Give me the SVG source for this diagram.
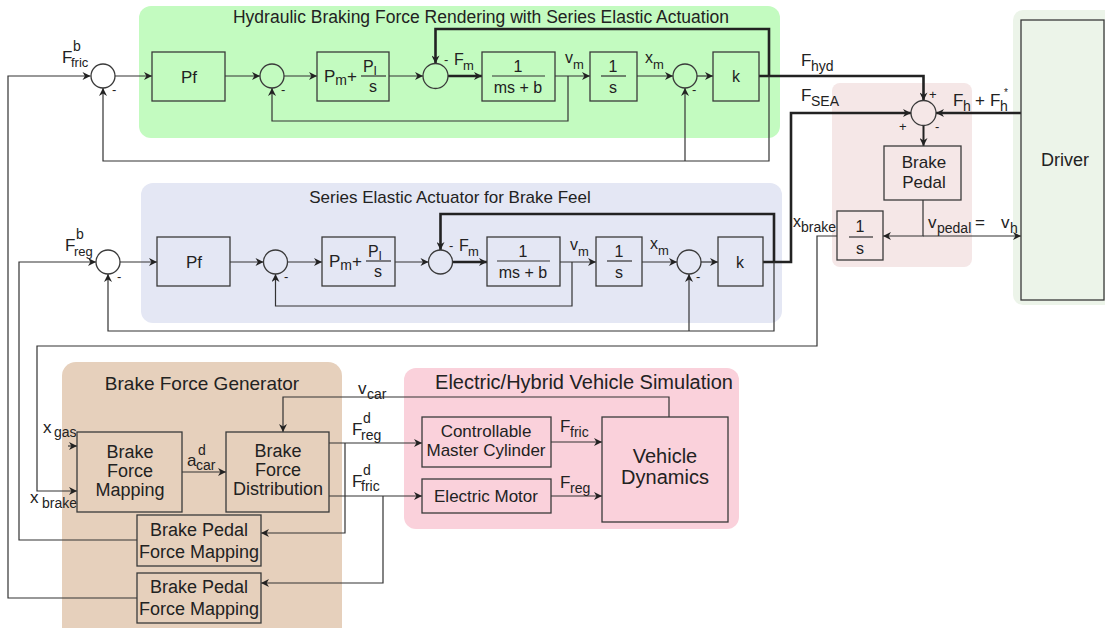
<svg xmlns="http://www.w3.org/2000/svg" width="1105" height="628" viewBox="0 0 1105 628">
<style>
.t{font-family:"Liberation Sans",Arial,sans-serif;fill:#222}
.c{text-anchor:middle}
.b{fill:none;stroke:#3a3a3a;stroke-width:1.3}
.ln{fill:none;stroke:#333;stroke-width:1.2}
.tk{fill:none;stroke:#222;stroke-width:2.6}
.f17{font-size:17px}.f16{font-size:16px}.f18{font-size:18px}.f14{font-size:14px}.f13{font-size:13px}
</style>
<defs>
<marker id="a" viewBox="0 0 10 10" refX="10" refY="5" markerWidth="10" markerHeight="8" markerUnits="userSpaceOnUse" orient="auto"><path d="M0,0 L10,5 L0,10 L3,5 z" fill="#222"/></marker>
</defs>
<rect width="1105" height="628" fill="#fff"/>
<g id="panels">
<rect x="139" y="6" width="641" height="132" rx="12" fill="#c3fbc0"/>
<rect x="141" y="183" width="641" height="140" rx="12" fill="#e4e7f4"/>
<rect x="832" y="83" width="140" height="184" rx="8" fill="#f5e7e7"/>
<rect x="1013" y="10" width="110" height="295" rx="10" fill="#ecf4e9"/>
<rect x="62" y="362" width="280" height="280" rx="14" fill="#e6d0bc"/>
<rect x="404" y="368" width="335" height="161" rx="12" fill="#fad1db"/>
<text class="t c" style="font-size:17.5px" x="481" y="23">Hydraulic Braking Force Rendering with Series Elastic Actuation</text>
<text class="t c" style="font-size:17px" x="450" y="203">Series Elastic Actuator for Brake Feel</text>
<text class="t c" style="font-size:19px" x="202" y="390">Brake Force Generator</text>
<text class="t c" style="font-size:20px" x="584" y="389">Electric/Hybrid Vehicle Simulation</text>
</g>
<g id="connectors">
<path class="ln" d="M137,598 H8 V76 H90.5" marker-end="url(#a)"/>
<path class="ln" d="M115,76 H152" marker-end="url(#a)"/>
<path class="ln" d="M225,76 H260" marker-end="url(#a)"/>
<path class="ln" d="M284,76 H317" marker-end="url(#a)"/>
<path class="ln" d="M389,76 H423" marker-end="url(#a)"/>
<path class="tk" d="M448,76 H482" marker-end="url(#a)"/>
<path class="ln" d="M555,76 H590" marker-end="url(#a)"/>
<path class="ln" d="M568,76 V121 H272 V88" marker-end="url(#a)"/>
<path class="ln" d="M637,76 H673" marker-end="url(#a)"/>
<path class="ln" d="M697,76 H713" marker-end="url(#a)"/>
<path class="tk" d="M759,76 H923.5 V100.5" marker-end="url(#a)"/>
<path class="tk" d="M769,76 V29 H435.5 V63.5" marker-end="url(#a)"/>
<path class="ln" d="M769,76 V161 H103 V88" marker-end="url(#a)"/>
<path class="ln" d="M685,161 V88" marker-end="url(#a)"/>
<path class="ln" d="M137,540 H19 V262 H96" marker-end="url(#a)"/>
<path class="ln" d="M120,262 H157" marker-end="url(#a)"/>
<path class="ln" d="M230,262 H263.5" marker-end="url(#a)"/>
<path class="ln" d="M287.5,262 H322" marker-end="url(#a)"/>
<path class="ln" d="M395,262 H428.5" marker-end="url(#a)"/>
<path class="tk" d="M452.5,262 H487" marker-end="url(#a)"/>
<path class="ln" d="M560,262 H596" marker-end="url(#a)"/>
<path class="ln" d="M572,262 V306 H275.5 V274" marker-end="url(#a)"/>
<path class="ln" d="M642,262 H677" marker-end="url(#a)"/>
<path class="ln" d="M701,262 H718" marker-end="url(#a)"/>
<path class="tk" d="M763,262 H791 V113 H911" marker-end="url(#a)"/>
<path class="tk" d="M774,262 V214 H440.5 V250" marker-end="url(#a)"/>
<path class="ln" d="M774,262 V331 H108 V274" marker-end="url(#a)"/>
<path class="ln" d="M689,331 V274" marker-end="url(#a)"/>
<path class="tk" d="M1021,113 H936" marker-end="url(#a)"/>
<path class="tk" style="stroke-width:2" d="M923.5,125.5 V146" marker-end="url(#a)"/>
<path class="ln" d="M923,200 V236 H883" marker-end="url(#a)"/>
<path class="ln" d="M923,236 H1021" marker-end="url(#a)"/>
<path class="ln" d="M837,236 H817 V346 H37 V491 H77" marker-end="url(#a)"/>
<path class="ln" d="M68,446 H77" marker-end="url(#a)"/>
<path class="ln" d="M182,472 H226" marker-end="url(#a)"/>
<path class="ln" d="M669,417 V397 H283 V432" marker-end="url(#a)"/>
<path class="ln" d="M329,443 H422" marker-end="url(#a)"/>
<path class="ln" d="M345,443 V533 H261" marker-end="url(#a)"/>
<path class="ln" d="M329,496 H422" marker-end="url(#a)"/>
<path class="ln" d="M383,496 V583 H261" marker-end="url(#a)"/>
<path class="ln" d="M551,442 H602" marker-end="url(#a)"/>
<path class="ln" d="M551,496 H602" marker-end="url(#a)"/>
</g>
<g id="labels">
<text class="t f17" x="62" y="63">F</text><text class="t f14" x="73" y="51">b</text><text class="t f13" x="71" y="67">fric</text>
<text class="t f17" x="65" y="251">F</text><text class="t f14" x="76" y="239">b</text><text class="t f13" x="74" y="256">reg</text>
<text class="t f16" x="454" y="65">F</text><text class="t f13" x="463" y="70">m</text>
<text class="t f16" x="565" y="63">v</text><text class="t f13" x="573" y="69">m</text>
<text class="t f16" x="645" y="63">x</text><text class="t f13" x="653" y="69">m</text>
<text class="t f16" x="459" y="251">F</text><text class="t f13" x="468" y="256">m</text>
<text class="t f16" x="570" y="250">v</text><text class="t f13" x="578" y="256">m</text>
<text class="t f16" x="650" y="249">x</text><text class="t f13" x="658" y="255">m</text>
<text class="t f17" x="801" y="66">F</text><text class="t f14" x="811" y="71">hyd</text>
<text class="t f17" x="801" y="101">F</text><text class="t f14" x="811" y="106">SEA</text>
<text class="t f17" x="953" y="106">F</text><text class="t f14" x="963" y="111">h</text>
<text class="t f17" x="975" y="106">+</text><text class="t f17" x="990" y="106">F</text><text class="t f14" x="1000" y="111">h</text><text class="t" style="font-size:10px" x="1004" y="96">*</text>
<text class="t f17" x="928" y="228">v</text><text class="t f14" x="937" y="233">pedal</text>
<text class="t f17" x="975" y="228">=</text>
<text class="t f17" x="1001" y="228">v</text><text class="t f14" x="1010" y="233">h</text>
<text class="t f16" x="793" y="227">x</text><text class="t f14" x="801" y="232">brake</text>
<text class="t f17" x="352" y="435">F</text><text class="t f14" x="363" y="423">d</text><text class="t f14" x="361" y="440">reg</text>
<text class="t f17" x="352" y="487">F</text><text class="t f14" x="363" y="475">d</text><text class="t f14" x="361" y="491">fric</text>
<text class="t f17" x="358" y="394">v</text><text class="t f14" x="367" y="399">car</text>
<text class="t f17" x="187" y="466">a</text><text class="t f14" x="198" y="455">d</text><text class="t f14" x="196" y="470">car</text>
<text class="t f17" x="43" y="433">x</text><text class="t f14" x="54" y="437">gas</text>
<text class="t f17" x="30" y="503">x</text><text class="t f14" x="42" y="508">brake</text>
<text class="t f17" x="560" y="432">F</text><text class="t f14" x="570" y="437">fric</text>
<text class="t f17" x="560" y="488">F</text><text class="t f14" x="570" y="493">reg</text>
<text class="t f13" x="112" y="94">-</text><text class="t f13" x="281" y="94">-</text><text class="t f13" x="444" y="64">-</text><text class="t f13" x="692" y="94">-</text>
<text class="t f13" x="117" y="281">-</text><text class="t f13" x="284" y="281">-</text><text class="t f13" x="449" y="250">-</text><text class="t f13" x="696" y="281">-</text>
<text class="t f13" x="929" y="99">+</text><text class="t f13" x="899" y="131">+</text><text class="t f13" x="935" y="131">-</text>
</g>
<g id="S1"><circle class="b" cx="103" cy="76" r="12"/></g>
<g id="Pf1"><rect class="b" x="152" y="52" width="73" height="49"/><text class="t f17 c" x="189" y="83">Pf</text></g>
<g id="S2"><circle class="b" cx="272" cy="76" r="12"/></g>
<g id="PI1"><rect class="b" x="317" y="52" width="72" height="49"/><text class="t f17" x="324" y="82">P<tspan class="f14" dy="3">m</tspan><tspan dy="-3">+</tspan></text><text class="t f16" x="363" y="72">P<tspan class="f13" dy="3">l</tspan></text><line class="ln" x1="361" y1="76" x2="386" y2="76"/><text class="t f16 c" x="373" y="92">s</text></g>
<g id="S3"><circle class="b" cx="435.5" cy="76" r="12.5"/></g>
<g id="M1"><rect class="b" x="482" y="52" width="73" height="49"/><text class="t f16 c" x="518" y="72">1</text><line class="ln" x1="492" y1="76" x2="545" y2="76"/><text class="t f16 c" x="518" y="93">ms + b</text></g>
<g id="I1"><rect class="b" x="590" y="52" width="47" height="49"/><text class="t f16 c" x="613" y="72">1</text><line class="ln" x1="601" y1="76" x2="626" y2="76"/><text class="t f16 c" x="613" y="93">s</text></g>
<g id="S4"><circle class="b" cx="685" cy="76" r="12"/></g>
<g id="K1"><rect class="b" x="713" y="52" width="46" height="49"/><text class="t f16 c" x="736" y="82">k</text></g>
<g id="S1b"><circle class="b" cx="108" cy="262" r="12"/></g>
<g id="Pf2"><rect class="b" x="157" y="237" width="73" height="49"/><text class="t f17 c" x="194" y="268">Pf</text></g>
<g id="S2b"><circle class="b" cx="275.5" cy="262" r="12"/></g>
<g id="PI2"><rect class="b" x="322" y="237" width="73" height="49"/><text class="t f17" x="329" y="267">P<tspan class="f14" dy="3">m</tspan><tspan dy="-3">+</tspan></text><text class="t f16" x="368" y="257">P<tspan class="f13" dy="3">l</tspan></text><line class="ln" x1="366" y1="261" x2="391" y2="261"/><text class="t f16 c" x="378" y="277">s</text></g>
<g id="S3b"><circle class="b" cx="440.5" cy="262" r="12"/></g>
<g id="M2"><rect class="b" x="487" y="237" width="73" height="49"/><text class="t f16 c" x="523" y="257">1</text><line class="ln" x1="497" y1="261" x2="550" y2="261"/><text class="t f16 c" x="523" y="278">ms + b</text></g>
<g id="I2"><rect class="b" x="596" y="237" width="46" height="49"/><text class="t f16 c" x="619" y="257">1</text><line class="ln" x1="607" y1="261" x2="632" y2="261"/><text class="t f16 c" x="619" y="278">s</text></g>
<g id="S4b"><circle class="b" cx="689" cy="262" r="12"/></g>
<g id="K2"><rect class="b" x="718" y="237" width="45" height="49"/><text class="t f16 c" x="740" y="268">k</text></g>
<g id="SP"><circle class="b" cx="923.5" cy="113" r="12.5"/></g>
<g id="BP"><rect class="b" x="884" y="146" width="77" height="54"/><text class="t f17 c" x="924" y="168">Brake</text><text class="t f17 c" x="924" y="188">Pedal</text></g>
<g id="IP"><rect class="b" x="837" y="211" width="46" height="49"/><text class="t f16 c" x="860" y="232">1</text><line class="ln" x1="849" y1="237" x2="873" y2="237"/><text class="t f16 c" x="860" y="254">s</text></g>
<g id="Driver"><rect class="b" x="1021" y="20" width="83" height="280"/><text class="t f18 c" x="1065" y="166">Driver</text></g>
<g id="BFM"><rect class="b" x="77" y="432" width="105" height="80"/><text class="t f18 c" x="130" y="458">Brake</text><text class="t f18 c" x="130" y="477">Force</text><text class="t f18 c" x="130" y="496">Mapping</text></g>
<g id="BFD"><rect class="b" x="226" y="432" width="103" height="80"/><text class="t f18 c" x="278" y="457">Brake</text><text class="t f18 c" x="278" y="476">Force</text><text class="t f18 c" x="278" y="495">Distribution</text></g>
<g id="BPFM1"><rect class="b" x="137" y="515" width="124" height="51"/><text class="t f18 c" x="199" y="536">Brake Pedal</text><text class="t f18 c" x="199" y="558">Force Mapping</text></g>
<g id="BPFM2"><rect class="b" x="137" y="573" width="124" height="50"/><text class="t f18 c" x="199" y="593">Brake Pedal</text><text class="t f18 c" x="199" y="615">Force Mapping</text></g>
<g id="CMC"><rect class="b" x="422" y="417" width="129" height="50"/><text class="t f17 c" x="486" y="437">Controllable</text><text class="t f17 c" x="486" y="456">Master Cylinder</text></g>
<g id="EM"><rect class="b" x="422" y="479" width="129" height="34"/><text class="t f17 c" x="486" y="502">Electric Motor</text></g>
<g id="VD"><rect class="b" x="602" y="417" width="126" height="105"/><text class="t c" style="font-size:20px" x="665" y="463">Vehicle</text><text class="t c" style="font-size:20px" x="665" y="484">Dynamics</text></g>
</svg>
